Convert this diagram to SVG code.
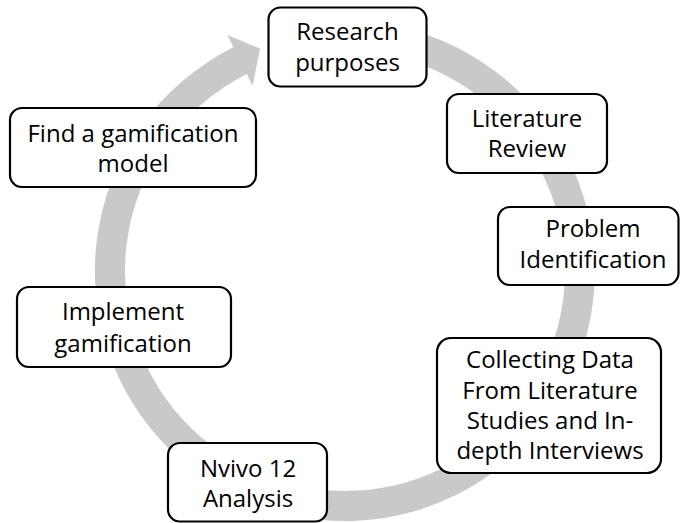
<svg xmlns="http://www.w3.org/2000/svg" width="680" height="523" viewBox="0 0 680 523">
<style>
.box{fill:#ffffff;stroke:#000000;stroke-width:2.2}
.t{font-family:"Open Sans","Liberation Sans",sans-serif;font-size:24px;fill:#000000;text-anchor:middle}
.arc{fill:#c9c9c9;stroke:none}
</style>
<rect width="680" height="523" fill="#ffffff"/>
<g id="connectors">
<path class="arc" d="M 323.2 22.0 A 250 250 0 1 1 233.45 47.27 L 227.2 34.7 L 260.1 48.7 L 252.6 85.7 L 246.8 74.1 A 220 220 0 1 0 325.8 51.8 Z"/>
</g>
<g id="n1">
<rect class="box" x="268.5" y="7.5" width="158" height="79" rx="12"/>
<text class="t" x="347.5" y="40">Research</text>
<text class="t" x="347.5" y="71">purposes</text>
</g>
<g id="n2">
<rect class="box" x="447" y="94" width="160" height="79" rx="12"/>
<text class="t" x="527" y="127">Literature</text>
<text class="t" x="527" y="157">Review</text>
</g>
<g id="n3">
<rect class="box" x="498" y="207" width="180.5" height="78" rx="12"/>
<text class="t" x="593" y="237">Problem</text>
<text class="t" x="593" y="268">Identification</text>
</g>
<g id="n4">
<rect class="box" x="437" y="338" width="224" height="135" rx="14"/>
<text class="t" x="550" y="368">Collecting Data</text>
<text class="t" x="550" y="398.5">From Literature</text>
<text class="t" x="550" y="429">Studies and In-</text>
<text class="t" x="550" y="459">depth Interviews</text>
</g>
<g id="n5">
<rect class="box" x="168" y="443" width="159" height="78.5" rx="12"/>
<text class="t" x="248" y="477">Nvivo 12</text>
<text class="t" x="248" y="507">Analysis</text>
</g>
<g id="n6">
<rect class="box" x="17" y="287" width="214" height="80" rx="12"/>
<text class="t" x="123" y="320">Implement</text>
<text class="t" x="123" y="352">gamification</text>
</g>
<g id="n7">
<rect class="box" x="10" y="108" width="246" height="79" rx="12"/>
<text class="t" x="133" y="142">Find a gamification</text>
<text class="t" x="133" y="172">model</text>
</g>
</svg>
